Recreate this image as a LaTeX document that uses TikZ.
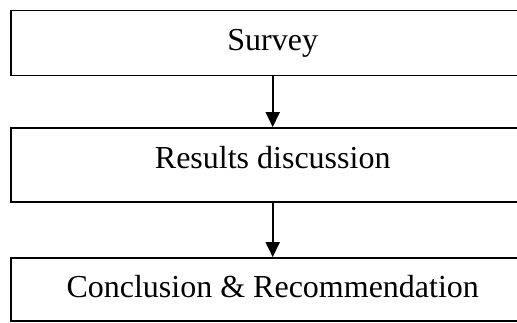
\documentclass[tikz,border=0pt]{standalone}
\usepackage{fontspec}
\setmainfont{Liberation Serif}
\usetikzlibrary{arrows.meta}

\begin{document}
\begin{tikzpicture}[x=0.5pt,y=-0.5pt,>={Triangle[length=7.5pt,width=7pt]}]
			\tikzstyle{stage}=[draw,line width=0.9pt,minimum width=261.7pt,inner sep=0pt,font=\fontsize{16pt}{19pt}\selectfont,text height=11.2pt,text depth=3.5pt]
			\tikzstyle{flow}=[->,line width=0.9pt]

			\useasboundingbox (0,0) rectangle (517,322);

			\node (survey) [stage, minimum height=32.5pt] at (272.7,43) {Survey};

			\node (results) [stage, minimum height=37pt, text depth=8.2pt] at (272.7,165) {Results discussion};

			\node (concl) [stage, minimum height=31.5pt] at (272.7,289.5) {Conclusion \& Recommendation};

			\draw [flow] (survey) -- (results);
			\draw [flow] (results) -- (concl);
		\end{tikzpicture}
\end{document}
